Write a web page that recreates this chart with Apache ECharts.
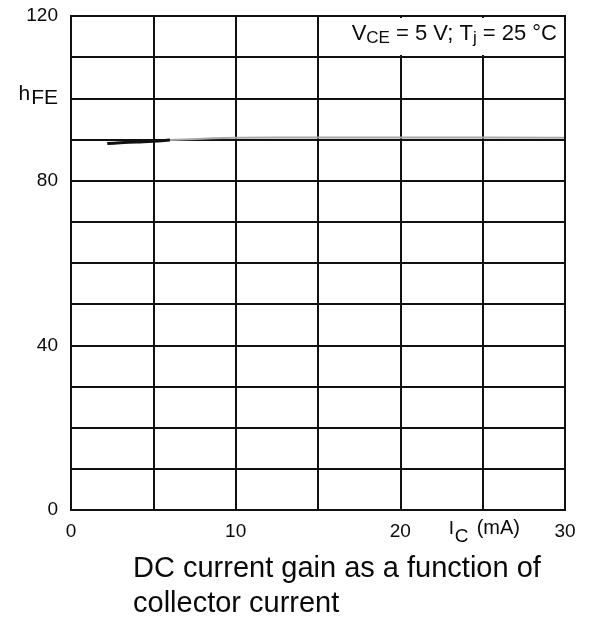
<!DOCTYPE html>
<html>
<head>
<meta charset="utf-8">
<script src="https://cdn.jsdelivr.net/npm/echarts@6/dist/echarts.min.js"></script>
<style>
  html, body { margin: 0; padding: 0; background: #fff; }
  #chart { width: 592px; height: 617px; }
</style>
</head>
<body>
<div id="chart"></div>
<script>
// Collector current (mA) and DC current gain hFE
const icNear = [2.2, 3, 4, 5, 6];
const hfeNear = [89.0, 89.2, 89.4, 89.6, 89.9];
const icFar = [6, 8, 10, 15, 20, 25, 30];
const hfeFar = [89.9, 90.2, 90.4, 90.5, 90.5, 90.5, 90.4];

const xTickLabels = { 0: '0', 10: '10', 20: '20', 30: '30' };
const yTickLabels = { 0: '0', 40: '40', 80: '80', 120: '120' };

const FONT = '"Liberation Sans", Arial, sans-serif';
const INK = '#0a0a0a';
const GRID = { left: 71, top: 16, width: 494, height: 494 };

const chart = echarts.init(document.getElementById('chart'), null, { renderer: 'canvas' });

function pairs(xs, ys) { return xs.map((x, i) => [x, ys[i]]); }

chart.setOption({
  animation: false,
  backgroundColor: '#fff',
  grid: Object.assign({ containLabel: false, show: true, borderColor: '#111', borderWidth: 2, z: 5 }, GRID),
  xAxis: {
    type: 'value', min: 0, max: 30, interval: 5,
    axisLine: { show: false }, axisTick: { show: false },
    splitLine: { show: true, lineStyle: { color: '#111', width: 2 } },
    axisLabel: {
      margin: 12, color: INK, fontFamily: FONT, fontSize: 19,
      formatter: v => (xTickLabels[v] !== undefined ? xTickLabels[v] : '')
    }
  },
  yAxis: {
    type: 'value', min: 0, max: 120, interval: 10,
    axisLine: { show: false }, axisTick: { show: false },
    splitLine: { show: true, lineStyle: { color: '#111', width: 2 } },
    axisLabel: {
      margin: 13, color: INK, fontFamily: FONT, fontSize: 19,
      formatter: v => {
        if (v === 100) return '{h|h}{sub|FE}';
        return yTickLabels[v] !== undefined ? yTickLabels[v] : '';
      },
      rich: {
        h: { fontFamily: FONT, fontSize: 21, color: INK, padding: [0, 1, 9, 0] },
        sub: { fontFamily: FONT, fontSize: 21, color: INK }
      }
    }
  },
  series: [
    {
      type: 'line', data: pairs(icFar, hfeFar), symbol: 'none', smooth: true,
      lineStyle: { color: '#a8a8a8', width: 2 }, z: 3
    },
    {
      type: 'line', data: pairs(icNear, hfeNear), symbol: 'none', smooth: true,
      lineStyle: { color: '#111', width: 3 }, z: 4
    }
  ]
});

// Conditions box in the top-right cells, the x-axis quantity label and the caption
const unitAt = chart.convertToPixel({ gridIndex: 0 }, [25, 0]);
chart.setOption({
  graphic: [
    {
      type: 'rect', z: 10,
      shape: { x: GRID.left + GRID.width * 0.5 + 2, y: GRID.top + 2, width: GRID.width * 0.5 - 3, height: 37 },
      style: { fill: '#fff' }
    },
    {
      type: 'text', z: 11,
      right: 592 - (GRID.left + GRID.width) + 8, top: 23,
      style: {
        text: '{b|V}{s|CE}{b| = 5 V; T}{s|j}{b| = 25 °C}',
        rich: {
          b: { fontFamily: FONT, fontSize: 22, fill: INK },
          s: { fontFamily: FONT, fontSize: 17, fill: INK, padding: [9, 0, 0, 0] }
        }
      }
    },
    {
      type: 'text', z: 11, x: unitAt[0] - 34, y: unitAt[1] + 9,
      style: { text: 'I', fontFamily: FONT, fontSize: 19, fill: INK }
    },
    {
      type: 'text', z: 11, x: unitAt[0] - 28, y: unitAt[1] + 17,
      style: { text: 'C', fontFamily: FONT, fontSize: 19, fill: INK }
    },
    {
      type: 'text', z: 11, x: unitAt[0] - 6, y: unitAt[1] + 8,
      style: { text: '(mA)', fontFamily: FONT, fontSize: 20, fill: INK }
    },
    {
      type: 'text', z: 11, left: 133, top: 551,
      style: {
        text: 'DC current gain as a function of\ncollector current',
        fontFamily: FONT, fontSize: 29, lineHeight: 35, fill: INK
      }
    }
  ]
});
</script>
</body>
</html>
